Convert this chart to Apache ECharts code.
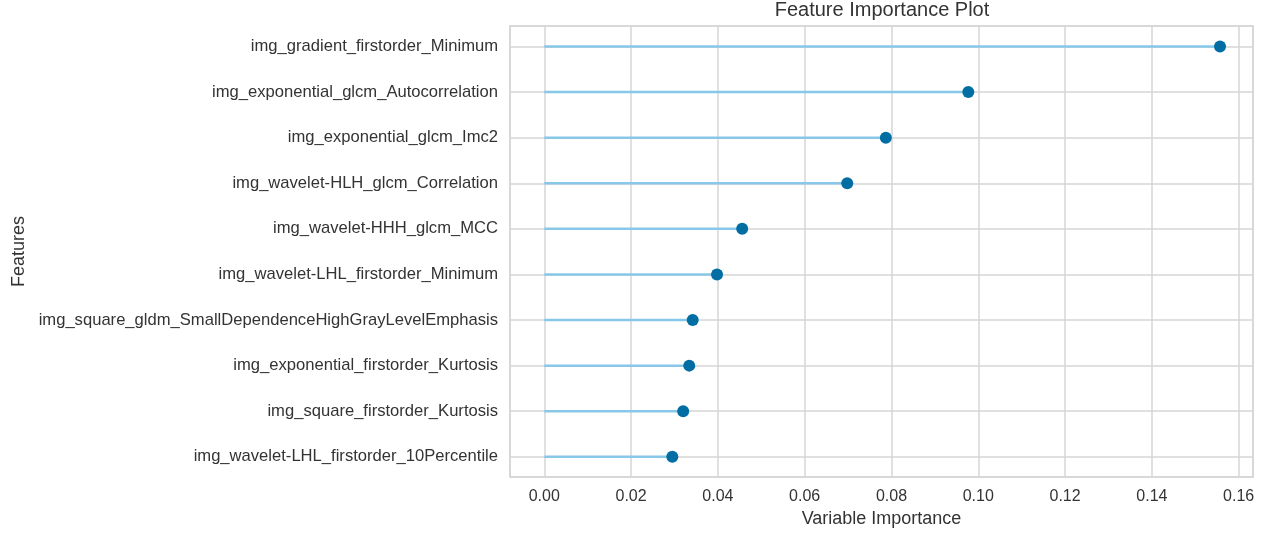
<!DOCTYPE html>
<html>
<head>
<meta charset="utf-8">
<script src="https://cdn.jsdelivr.net/npm/echarts@6/dist/echarts.min.js"></script>
<style>
html,body{margin:0;padding:0;background:#fff;}
#c{width:1282px;height:533px;}
</style>
</head>
<body>
<div id="c"></div>
<script>
const features = [
  'img_gradient_firstorder_Minimum',
  'img_exponential_glcm_Autocorrelation',
  'img_exponential_glcm_Imc2',
  'img_wavelet-HLH_glcm_Correlation',
  'img_wavelet-HHH_glcm_MCC',
  'img_wavelet-LHL_firstorder_Minimum',
  'img_square_gldm_SmallDependenceHighGrayLevelEmphasis',
  'img_exponential_firstorder_Kurtosis',
  'img_square_firstorder_Kurtosis',
  'img_wavelet-LHL_firstorder_10Percentile'
];
const importance = [0.1557, 0.0977, 0.0787, 0.0698, 0.0456, 0.0398, 0.0342, 0.0334, 0.0320, 0.0295];
const xTicks = [0, 0.02, 0.04, 0.06, 0.08, 0.10, 0.12, 0.14, 0.16];
const rowIndex = features.map((_, i) => i);

const chart = echarts.init(document.getElementById('c'));
const FONT = 'Liberation Sans';
const TXT = '#333333';
const GRID = '#d6d6d6';

chart.setOption({
  animation: false,
  title: {
    text: 'Feature Importance Plot',
    left: 882,
    textAlign: 'center',
    top: 0,
    padding: 0,
    textStyle: { fontFamily: FONT, fontSize: 20, fontWeight: 'normal', color: TXT }
  },
  grid: {
    left: 510, right: 29, top: 26, bottom: 54,
    show: true, borderColor: '#cccccc', borderWidth: 1.5, backgroundColor: '#fff'
  },
  xAxis: {
    type: 'value',
    min: -0.0079, max: 0.1633,
    name: 'Variable Importance',
    nameLocation: 'middle',
    nameGap: 33,
    nameTextStyle: { fontFamily: FONT, fontSize: 18, color: TXT },
    axisLine: { show: false },
    axisTick: { show: false, customValues: xTicks },
    axisLabel: {
      customValues: xTicks,
      fontFamily: FONT, fontSize: 16, color: TXT, margin: 12,
      formatter: v => v.toFixed(2)
    },
    splitLine: { show: true, lineStyle: { color: GRID, width: 1.5 } }
  },
  yAxis: {
    type: 'value',
    inverse: true,
    min: -0.45, max: 9.443,
    name: 'Features',
    nameLocation: 'middle',
    nameGap: 480,
    nameTextStyle: { fontFamily: FONT, fontSize: 18, color: TXT },
    axisLine: { show: false },
    axisTick: { show: false, customValues: rowIndex },
    axisLabel: {
      customValues: rowIndex,
      fontFamily: FONT, fontSize: 16.6, color: TXT, margin: 12,
      formatter: v => features[Math.round(v)] || ''
    },
    splitLine: { show: true, lineStyle: { color: GRID, width: 1.5 } }
  },
  series: [
    {
      type: 'custom',
      silent: true,
      data: importance.map((v, i) => [v, i]),
      renderItem: (params, api) => {
        const s = api.coord([0, api.value(1)]);
        const e = api.coord([api.value(0), api.value(1)]);
        return {
          type: 'line',
          shape: { x1: s[0], y1: s[1], x2: e[0], y2: e[1] },
          style: { stroke: '#87c8e8', lineWidth: 2.5 }
        };
      },
      z: 2
    },
    {
      type: 'scatter',
      data: importance.map((v, i) => [v, i]),
      symbol: 'circle',
      symbolSize: 12,
      itemStyle: { color: '#006ea3', opacity: 1 },
      z: 3
    }
  ]
});
</script>
</body>
</html>
